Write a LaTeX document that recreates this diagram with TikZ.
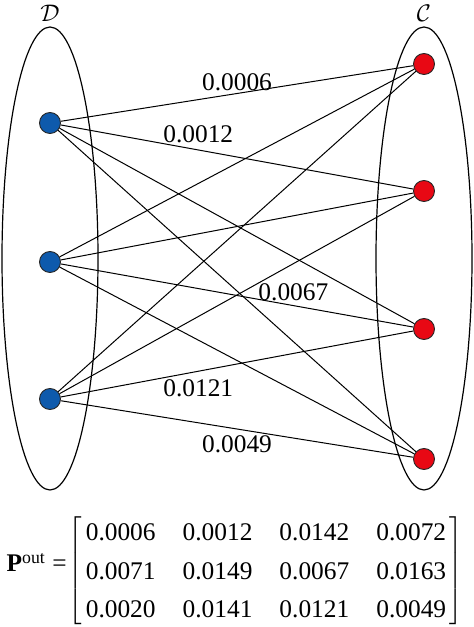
\documentclass[tikz,border=0pt]{standalone}
\usepackage{fontspec}
\setmainfont{Liberation Serif}
\usetikzlibrary{matrix, positioning}
\definecolor{dblue}{RGB}{14,90,172}
\definecolor{cred}{RGB}{232,8,20}

\begin{document}
\begin{tikzpicture}[x=0.5pt, y=0.5pt,
    setring/.style={draw, line width=0.6pt},
    dot/.style={circle, draw=black!85, line width=0.45pt, minimum size=10.5pt, inner sep=0pt},
    link/.style={line width=0.5pt},
    wlbl/.style={font=\fontsize{12.7}{15}\selectfont, inner sep=#1},
    setlbl/.style={font=\fontsize{13}{15}\selectfont, inner sep=0pt}
]
    \useasboundingbox (0,0) rectangle (474,627);
    % the two sets
    \draw[setring] (50,368.5) ellipse [x radius=24pt, y radius=115.75pt];
    \draw[setring] (424,368.5) ellipse [x radius=24pt, y radius=115.75pt];
    \node[setlbl] (dlbl) at (50,614) {$\mathcal{D}$};
    \node[setlbl] (clbl) at (424,614) {$\mathcal{C}$};
    % nodes
    \node[dot, fill=dblue] (d1) at (50,504) {};
    \node[dot, fill=dblue] (d2) at (50,365) {};
    \node[dot, fill=dblue] (d3) at (50,228) {};
    \node[dot, fill=cred] (c1) at (424,563) {};
    \node[dot, fill=cred] (c2) at (424,436) {};
    \node[dot, fill=cred] (c3) at (424,298) {};
    \node[dot, fill=cred] (c4) at (424,168) {};
    % all links
    \foreach \i in {1,2,3}
        \foreach \j in {1,2,3,4}
            \draw[link] (d\i) -- (c\j);
    % weights
    \path (d1) -- node[wlbl=1pt, pos=0.5, above] {0.0006} (c1);
    \path (d1) -- node[wlbl=3.5pt, pos=0.39, above] {0.0012} (c2);
    \path (d2) -- node[wlbl=2pt, pos=0.66, above] {0.0067} (c3);
    \path (d3) -- node[wlbl=4pt, pos=0.39, below] {0.0121} (c3);
    \path (d3) -- node[wlbl=3pt, pos=0.5, below] {0.0049} (c4);
    % matrix
    \matrix (pout) [matrix of nodes,
        nodes={font=\fontsize{12.7}{15}\selectfont, inner sep=0pt, text height=8.6pt, text depth=0pt},
        column sep=13.5pt, row sep=10.6pt, inner xsep=0.4pt, inner ysep=4pt,
        left delimiter={[}, right delimiter={]}] at (266,56.5) {
        0.0006 & 0.0012 & 0.0142 & 0.0072 \\
        0.0071 & 0.0149 & 0.0067 & 0.0163 \\
        0.0020 & 0.0141 & 0.0121 & 0.0049 \\
    };
    \node[wlbl=0pt, anchor=base east] (plbl) at (67,55) {\textbf{P}\textsuperscript{out} =};
\end{tikzpicture}
\end{document}
